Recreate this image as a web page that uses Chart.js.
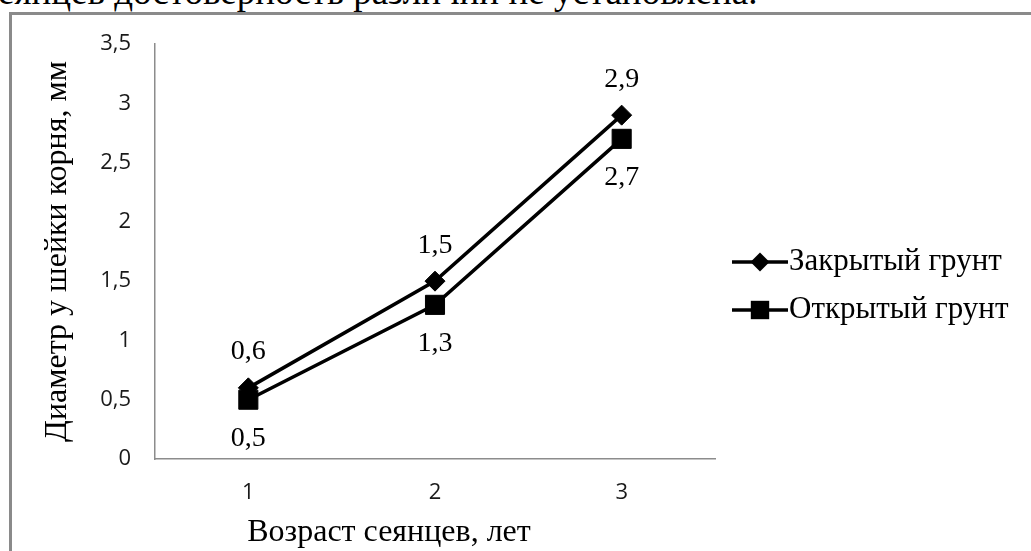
<!DOCTYPE html>
<html lang="ru">
<head>
<meta charset="utf-8">
<title>Диаметр у шейки корня</title>
<script src="https://cdn.jsdelivr.net/npm/chart.js@4/dist/chart.umd.min.js"></script>
<style>
  html, body { margin: 0; padding: 0; background: #fff; overflow: hidden; }
  body { width: 1031px; height: 551px; position: relative; }
  #caption {
    position: absolute; left: -2px; top: -27px;
    font: 37px "Liberation Serif", "Times New Roman", serif;
    color: #000; white-space: nowrap; line-height: 37px;
  }
  #frame {
    position: absolute; left: 9px; top: 12px; width: 1040px; height: 560px;
    border-left: 3px solid #8a8a8a; border-top: 3px solid #8a8a8a;
  }
  #wrap { position: absolute; left: 0; top: 0; width: 1031px; height: 551px; }
</style>
</head>
<body>
<div id="caption">еянцев достоверность различий не установлена.</div>
<div id="frame"></div>
<div id="wrap"><canvas id="chart" width="1031" height="551"></canvas></div>
<script>
// Seedling age (years) and root-collar diameter (mm)
const ages = ['1', '2', '3'];
const closedSoil = [0.6, 1.5, 2.9];   // Закрытый грунт
const openSoil = [0.5, 1.3, 2.7];     // Открытый грунт
const seriesNames = ['Закрытый грунт', 'Открытый грунт'];
const yTicks = [0, 0.5, 1, 1.5, 2, 2.5, 3, 3.5];
const yTickLabels = ['0', '0,5', '1', '1,5', '2', '2,5', '3', '3,5'];
const yTitle = 'Диаметр у шейки корня, мм';
const xTitle = 'Возраст сеянцев, лет';

const SERIF = '"Liberation Serif", "Times New Roman", serif';
const SANS = '"Open Sans", "Liberation Sans", sans-serif';
const fmt = v => String(v).replace('.', ',');

function markerPath(ctx, style, x, y, r) {
  ctx.beginPath();
  if (style === 'rectRot') {
    ctx.moveTo(x, y - r);
    ctx.lineTo(x + r, y);
    ctx.lineTo(x, y + r);
    ctx.lineTo(x - r, y);
  } else {
    const s = r * Math.SQRT1_2;
    ctx.rect(x - s, y - s, 2 * s, 2 * s);
  }
  ctx.closePath();
}

// Value labels: first series above its points, second below
const valueLabels = {
  id: 'valueLabels',
  afterDatasetsDraw(chart) {
    const ctx = chart.ctx;
    ctx.save();
    ctx.font = '28px ' + SERIF;
    ctx.fillStyle = '#000';
    ctx.textAlign = 'center';
    ctx.textBaseline = 'middle';
    chart.data.datasets.forEach((ds, i) => {
      const meta = chart.getDatasetMeta(i);
      meta.data.forEach((pt, j) => {
        const dy = i === 0 ? -36 : 39;
        ctx.fillText(fmt(ds.data[j]), pt.x, pt.y + dy);
      });
    });
    ctx.restore();
  }
};

// Line-and-marker legend on the right plus the category axis title
const sideLegend = {
  id: 'sideLegend',
  afterDraw(chart) {
    const ctx = chart.ctx;
    ctx.save();
    const rows = [262, 310];
    chart.data.datasets.forEach((ds, i) => {
      const y = rows[i];
      ctx.strokeStyle = '#000';
      ctx.lineWidth = 3.5;
      ctx.beginPath();
      ctx.moveTo(732, y);
      ctx.lineTo(788, y);
      ctx.stroke();
      ctx.fillStyle = '#000';
      markerPath(ctx, ds.pointStyle, 760, y, i === 0 ? 9.5 : 13);
      ctx.fill();
      ctx.font = '31px ' + SERIF;
      ctx.textAlign = 'left';
      ctx.textBaseline = 'middle';
      ctx.fillText(ds.label, 789, y);
    });
    ctx.font = '32px ' + SERIF;
    ctx.textAlign = 'center';
    ctx.textBaseline = 'middle';
    ctx.fillText(xTitle, 389, 533);
    ctx.restore();
  }
};

new Chart(document.getElementById('chart'), {
  type: 'line',
  data: {
    labels: ages,
    datasets: [
      {
        label: seriesNames[0], data: closedSoil, order: 1,
        borderColor: '#000', backgroundColor: '#000', borderWidth: 3.5,
        pointStyle: 'rectRot', pointRadius: 10, pointBorderWidth: 1,
        pointBackgroundColor: '#000', pointBorderColor: '#000', tension: 0
      },
      {
        label: seriesNames[1], data: openSoil, order: 0,
        borderColor: '#000', backgroundColor: '#000', borderWidth: 3.5,
        pointStyle: 'rect', pointRadius: 13.5, pointBorderWidth: 1,
        pointBackgroundColor: '#000', pointBorderColor: '#000', tension: 0
      }
    ]
  },
  options: {
    responsive: false,
    animation: false,
    layout: { padding: { top: 44, right: 316, left: 0, bottom: 0 } },
    plugins: { legend: { display: false }, tooltip: { enabled: false } },
    scales: {
      x: {
        type: 'category',
        offset: true,
        grid: { display: false, drawTicks: false },
        border: { display: true, color: '#8c8c8c', width: 1.5 },
        ticks: { font: { family: SANS, size: 22 }, color: '#1a1a1a', padding: 21, maxRotation: 0 },
        afterFit(scale) { scale.height = 92; }
      },
      y: {
        min: 0, max: 3.5,
        afterBuildTicks(scale) { scale.ticks = yTicks.map(v => ({ value: v })); },
        grid: { display: false, drawTicks: false },
        border: { display: true, color: '#8c8c8c', width: 1.5 },
        ticks: {
          font: { family: SANS, size: 22 }, color: '#1a1a1a', padding: 24,
          callback: (v, i) => yTickLabels[i]
        },
        title: {
          display: true, text: yTitle, color: '#000',
          font: { family: SERIF, size: 32 }, padding: { top: 38, bottom: 0 }
        },
        afterFit(scale) { scale.width = 155; }
      }
    }
  },
  plugins: [valueLabels, sideLegend]
});
</script>
</body>
</html>
